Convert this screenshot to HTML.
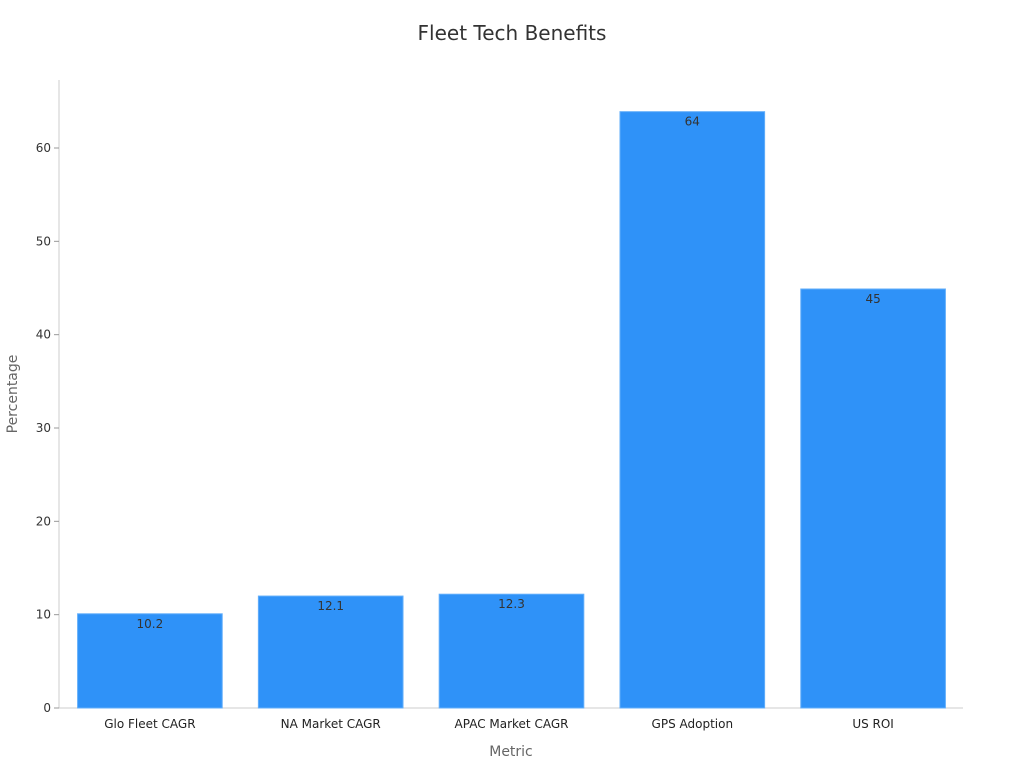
<!DOCTYPE html>
<html><head><meta charset="utf-8"><style>
body{margin:0;background:#fff;font-family:"Liberation Sans","DejaVu Sans",sans-serif}
</style></head><body>
<svg id="chart" width="1024" height="768" xmlns="http://www.w3.org/2000/svg">
<text x="512" y="40" text-anchor="middle" font-size="20" fill="#333" font-family="DejaVu Sans, sans-serif">Fleet Tech Benefits</text>
<text transform="translate(17,394) rotate(-90)" text-anchor="middle" font-size="14" fill="#666" font-family="DejaVu Sans, sans-serif">Percentage</text>
<text x="511" y="756" text-anchor="middle" font-size="14" fill="#666" font-family="DejaVu Sans, sans-serif">Metric</text>
<g id="plot"></g>
</svg>
<script>
const categories=["Glo Fleet CAGR","NA Market CAGR","APAC Market CAGR","GPS Adoption","US ROI"];
const values=[10.2,12.1,12.3,64,45];
const valueLabels=["10.2","12.1","12.3","64","45"];
const yTicks=[0,10,20,30,40,50,60];
const L=59.5,R=963.5,B=709,T=80;
const ppu=(709-149)/60;
const y=v=>B-v*ppu;
const band=(R-L)/categories.length;
const xc=i=>L+band*(i+0.5);
const bw=band*0.8;
const NS="http://www.w3.org/2000/svg";
const g=document.getElementById('plot');
function mk(t,a){const e=document.createElementNS(NS,t);for(const k in a)e.setAttribute(k,a[k]);g.appendChild(e);return e;}
let ax=mk('line',{x1:59,y1:T,x2:59,y2:708,stroke:'#ccc'});


let bx=mk('line',{x1:59,y1:708,x2:963,y2:708,stroke:'#ccc'});


yTicks.forEach(t=>{
 const m=mk('line',{x1:54,y1:y(t)-1,x2:59,y2:y(t)-1,stroke:'#999'});
 
 
 const tx=mk('text',{x:51,y:y(t)+3,'text-anchor':'end','font-size':12,fill:'#333','font-family':'DejaVu Sans, sans-serif'});
 tx.textContent=t;
 
 
});
categories.forEach((c,i)=>{
 const r=mk('rect',{x:xc(i)-bw/2,y:y(values[i]),width:bw,height:708-y(values[i]),fill:'#2f92f8',stroke:'#62aefa','stroke-width':1});
 
 
 const v=mk('text',{x:xc(i),y:y(values[i])+14,'text-anchor':'middle','font-size':12,fill:'#333','font-family':'DejaVu Sans, sans-serif'});
 v.textContent=valueLabels[i];
 
 
 const l=mk('text',{x:xc(i),y:728,'text-anchor':'middle','font-size':12,fill:'#222','font-family':'DejaVu Sans, sans-serif'});
 l.textContent=c;
 
 
});
</script>
</body></html>
